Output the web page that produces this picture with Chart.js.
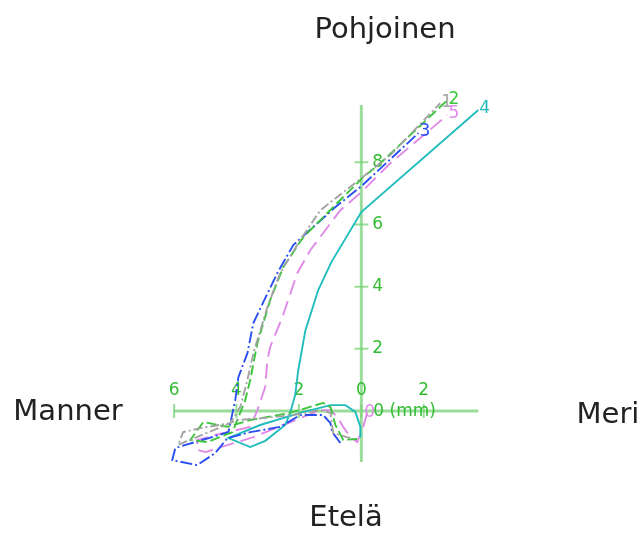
<!DOCTYPE html>
<html>
<head>
<meta charset="utf-8">
<script src="https://cdn.jsdelivr.net/npm/chart.js@4/dist/chart.umd.min.js"></script>
<style>
  html, body { margin: 0; padding: 0; background: #fff; }
  #wrap { width: 644px; height: 536px; }
</style>
</head>
<body>
<div id="wrap"><canvas id="myChart" width="644" height="536"></canvas></div>
<script>
// hodograph series (mm), x = east-west, y = north-south
const s1x = [-0.35, -0.90, -0.99, -1.31, -2.18, -3.17, -3.97, -5.87, -5.71, -5.16, -4.20, -3.88, -3.65, -3.46, -3.01, -2.60, -1.96, -1.31, 0.00, 0.93, 2.53];
const s1y = [-0.87, -0.71, -0.06, 0.03, -0.13, -0.23, -0.29, -1.09, -0.68, -0.55, -0.39, 0.13, 1.00, 1.86, 3.34, 4.44, 5.50, 6.46, 7.49, 8.23, 9.90];

const s2x = [-0.13, -0.58, -0.83, -0.99, -1.22, -2.28, -3.56, -4.29, -5.06, -5.48, -4.94, -4.13, -3.72, -3.56, -3.33, -2.92, -2.50, -1.86, -0.90, 0.06, 0.61, 2.76];
const s2y = [-0.90, -0.93, -0.45, 0.13, 0.26, -0.06, -0.29, -0.51, -0.35, -0.93, -1.00, -0.68, 0.35, 1.00, 2.19, 3.57, 4.63, 5.59, 6.56, 7.52, 7.97, 10.00];

const s3x = [-0.67, -0.93, -0.99, -1.22, -1.96, -2.60, -3.56, -4.29, -4.68, -5.26, -6.06, -5.96, -4.26, -4.04, -3.94, -3.65, -3.46, -3.08, -2.69, -2.18, -0.83, 0.00, 1.83];
const s3y = [-1.03, -0.68, -0.39, -0.13, -0.13, -0.51, -0.68, -0.87, -1.35, -1.74, -1.58, -1.19, -0.68, 0.35, 1.09, 1.86, 2.83, 3.63, 4.44, 5.34, 6.56, 7.23, 8.94];

const s4x = [-0.03, -0.03, -0.19, -0.51, -0.99, -1.96, -3.24, -4.26, -3.56, -3.08, -2.44, -2.28, -2.12, -2.02, -1.79, -1.38, -0.96, 0.00, 3.75];
const s4y = [-0.84, -0.51, -0.03, 0.19, 0.19, -0.06, -0.45, -0.87, -1.16, -0.96, -0.45, -0.06, 0.51, 1.32, 2.60, 3.89, 4.79, 6.40, 9.68];

const s5x = [0.19, 0.06, -0.13, -0.35, -0.58, -0.77, -0.99, -1.31, -1.86, -2.50, -3.46, -5.00, -5.26, -5.26, -4.68, -3.56, -3.33, -3.08, -3.01, -2.92, -2.53, -2.05, -1.63, -0.67, 0.00, 0.93, 2.76];
const s5y = [-0.06, -0.51, -1.00, -0.84, -0.51, -0.19, 0.03, 0.03, -0.19, -0.45, -0.84, -1.32, -1.25, -0.93, -0.77, -0.51, 0.03, 0.77, 1.64, 2.06, 3.02, 4.44, 5.18, 6.46, 7.04, 7.97, 9.52];

const seriesX = [s1x, s2x, s3x, s4x, s5x];
const seriesY = [s1y, s2y, s3y, s4y, s5y];
const endLabels = ['1', '2', '3', '4', '5'];
const startLabels = ['', '', '', '', '0'];
const colors = ['#a3a3a3', '#3cc43c', '#2a4ef0', '#22bcbc', '#e08ae8'];
const dashes = [[9, 3, 2, 3], [10, 4], [12, 3, 2, 3], [], [15, 7]];

const xTicks = [-6, -4, -2, 0, 2];
const yTicks = [2, 4, 6, 8];
const xAxisRange = [-6, 3.75];
const yAxisRange = [-1.64, 9.84];

const compass = [
    { text: 'Pohjoinen', x: 385, y: 30 },
    { text: 'Etelä', x: 346, y: 518 },
    { text: 'Manner', x: 68, y: 412 },
    { text: 'Meri', x: 608, y: 415 }
];

let datasets = [];
for (let i = 0; i < seriesX.length; i++) {
    let pts = [];
    for (let j = 0; j < seriesX[i].length; j++) {
        pts.push({ x: seriesX[i][j], y: seriesY[i][j] });
    }
    datasets.push({
        data: pts,
        showLine: true,
        borderColor: colors[i],
        borderWidth: 1.9,
        borderDash: dashes[i],
        pointRadius: 0,
        fill: false
    });
}

const axisGreen = 'rgba(120, 210, 120, 0.75)';
const labelGreen = '#33bb33';

const axesPlugin = {
    id: 'axes',
    beforeDatasetsDraw(chart) {
        const ctx = chart.ctx;
        const xs = chart.scales.x, ys = chart.scales.y;
        const x0 = xs.getPixelForValue(0), y0 = ys.getPixelForValue(0);
        ctx.save();
        ctx.strokeStyle = axisGreen;
        ctx.lineWidth = 3;
        ctx.beginPath();
        ctx.moveTo(xs.getPixelForValue(xAxisRange[0]), y0);
        ctx.lineTo(xs.getPixelForValue(xAxisRange[1]), y0);
        ctx.moveTo(x0, ys.getPixelForValue(yAxisRange[0]));
        ctx.lineTo(x0, ys.getPixelForValue(yAxisRange[1]));
        ctx.stroke();
        ctx.lineWidth = 2;
        ctx.beginPath();
        for (let v of xTicks) {
            let px = xs.getPixelForValue(v);
            ctx.moveTo(px, y0 - 7);
            ctx.lineTo(px, y0 + 7);
        }
        for (let v of yTicks) {
            let py = ys.getPixelForValue(v);
            ctx.moveTo(x0 - 7, py);
            ctx.lineTo(x0 + 7, py);
        }
        ctx.stroke();

        ctx.fillStyle = labelGreen;
        ctx.font = '17px "DejaVu Sans"';
        ctx.textAlign = 'center';
        ctx.textBaseline = 'middle';
        for (let v of xTicks) {
            ctx.fillText(String(Math.abs(v)), xs.getPixelForValue(v), y0 - 20);
        }
        ctx.textAlign = 'left';
        for (let v of yTicks) {
            ctx.fillText(String(v), x0 + 11, ys.getPixelForValue(v));
        }
        ctx.fillText('0 (mm)', x0 + 12, y0 + 1);
        ctx.restore();
    },
    afterDraw(chart) {
        const ctx = chart.ctx;
        ctx.save();
        ctx.font = '17px "DejaVu Sans"';
        ctx.textBaseline = 'middle';
        ctx.textAlign = 'left';
        chart.data.datasets.forEach(function (ds, i) {
            let meta = chart.getDatasetMeta(i);
            let last = meta.data[meta.data.length - 1];
            let first = meta.data[0];
            ctx.fillStyle = colors[i];
            ctx.fillText(endLabels[i], last.x + 1, last.y - 1);
            if (startLabels[i]) {
                ctx.fillText(startLabels[i], first.x - 3, first.y);
            }
        });
        ctx.fillStyle = '#222';
        ctx.font = '29px "DejaVu Sans"';
        ctx.textAlign = 'center';
        for (let c of compass) {
            ctx.fillText(c.text, c.x, c.y);
        }
        ctx.restore();
    }
};

new Chart('myChart', {
    type: 'scatter',
    data: { datasets: datasets },
    options: {
        responsive: false,
        animation: false,
        layout: { padding: 0 },
        plugins: {
            legend: { display: false },
            tooltip: { enabled: false },
            title: { display: false }
        },
        scales: {
            x: { display: false, min: -11.58, max: 9.06 },
            y: { display: false, min: -4.02, max: 13.22 }
        }
    },
    plugins: [axesPlugin]
});
</script>
</body>
</html>
